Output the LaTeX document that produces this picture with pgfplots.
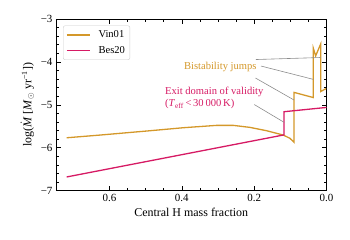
\documentclass[border=0pt]{standalone}
\usepackage{fontspec}
\setmainfont{Liberation Serif}
\usepackage{pgfplots}
\pgfplotsset{compat=1.18}
\definecolor{vin}{RGB}{212,152,42}
\definecolor{bes}{RGB}{214,26,100}
\definecolor{anngray}{RGB}{140,140,140}
\pgfplotsset{
  mylegimg/.style={legend image code/.code={\draw[##1] (0bp,0bp) -- (23bp,0bp);}},
}
\begin{document}
\begin{tikzpicture}
\begin{axis}[
  scale only axis, width=270.5bp, height=171.7bp,
  x dir=reverse, xmin=0, xmax=0.748, ymin=-7, ymax=-3,
  xtick={0,0.2,0.4,0.6}, xticklabels={0.0,0.2,0.4,0.6},
  minor x tick num=3,
  ytick={-7,-6,-5,-4,-3}, yticklabels={−7,−6,−5,−4,−3},
  minor y tick num=4,
  tick align=inside, major tick length=5bp, minor tick length=2.8bp,
  tick style={line width=0.6bp, black},
  axis line style={line width=0.8bp},
  every tick label/.append style={font=\fontsize{11}{13}\selectfont},
  xlabel={Central H mass fraction},
  ylabel={log($\dot{\hbox{\textit{M}}}$ [\textit{M}$_\odot$ yr\textsuperscript{−1}])},
  label style={font=\fontsize{12}{14}\selectfont},
  legend style={at={(0.026,0.962)}, anchor=north west,
    draw={rgb,255:red,204;green,204;blue,204}, rounded corners=2bp,
    font=\fontsize{10.6}{12}\selectfont, inner xsep=3bp, inner ysep=3bp,
    row sep=3bp, cells={anchor=west},
    /tikz/every odd column/.append style={column sep=6bp}},
  mylegimg,
]
\addplot[color=vin, line width=1.3bp] coordinates {
(0.7185,-5.767) (0.6266,-5.704) (0.4882,-5.603) (0.3961,-5.533)
(0.3037,-5.478) (0.2578,-5.478) (0.2116,-5.525) (0.1654,-5.603)
(0.1195,-5.704) (0.101,-5.78) (0.0896,-5.874)
(0.0896,-4.71) (0.0365,-4.83) (0.0365,-3.68) (0.030,-3.86)
(0.016,-3.58) (0.016,-4.69) (0.001,-4.62)
};
\addlegendentry{Vin01}
\addplot[color=bes, line width=1.3bp] coordinates {
(0.7185,-6.68) (0.1176,-5.70) (0.1176,-5.16) (0.0,-5.06)
};
\addlegendentry{Bes20}
\draw[anngray, line width=0.6bp] (axis cs:0.195,-3.944) -- (axis cs:0.016,-3.897);
\draw[anngray, line width=0.6bp] (axis cs:0.181,-4.096) -- (axis cs:0.0365,-4.406);
\draw[anngray, line width=0.6bp] (axis cs:0.1964,-4.375) -- (axis cs:0.0896,-4.888);
\draw[anngray, line width=0.6bp] (axis cs:0.1997,-4.993) -- (axis cs:0.117,-5.408);
\node[anchor=east, inner sep=0pt, text=vin, font=\fontsize{10.6}{12.6}\selectfont]
  at (axis cs:0.193,-4.126) {Bistability jumps};
\node[anchor=west, inner sep=0pt, align=left, text=bes, font=\fontsize{10.6}{12.6}\selectfont]
  at (axis cs:0.4467,-4.842) {Exit domain of validity\\(\textit{T}\textsubscript{eff}\,<\,30\,000\,K)};
\end{axis}
\pgfresetboundingbox
\path (current axis.south west) ++(-56bp,-49.3bp) rectangle ++(350bp,240bp);
\end{tikzpicture}
\end{document}
